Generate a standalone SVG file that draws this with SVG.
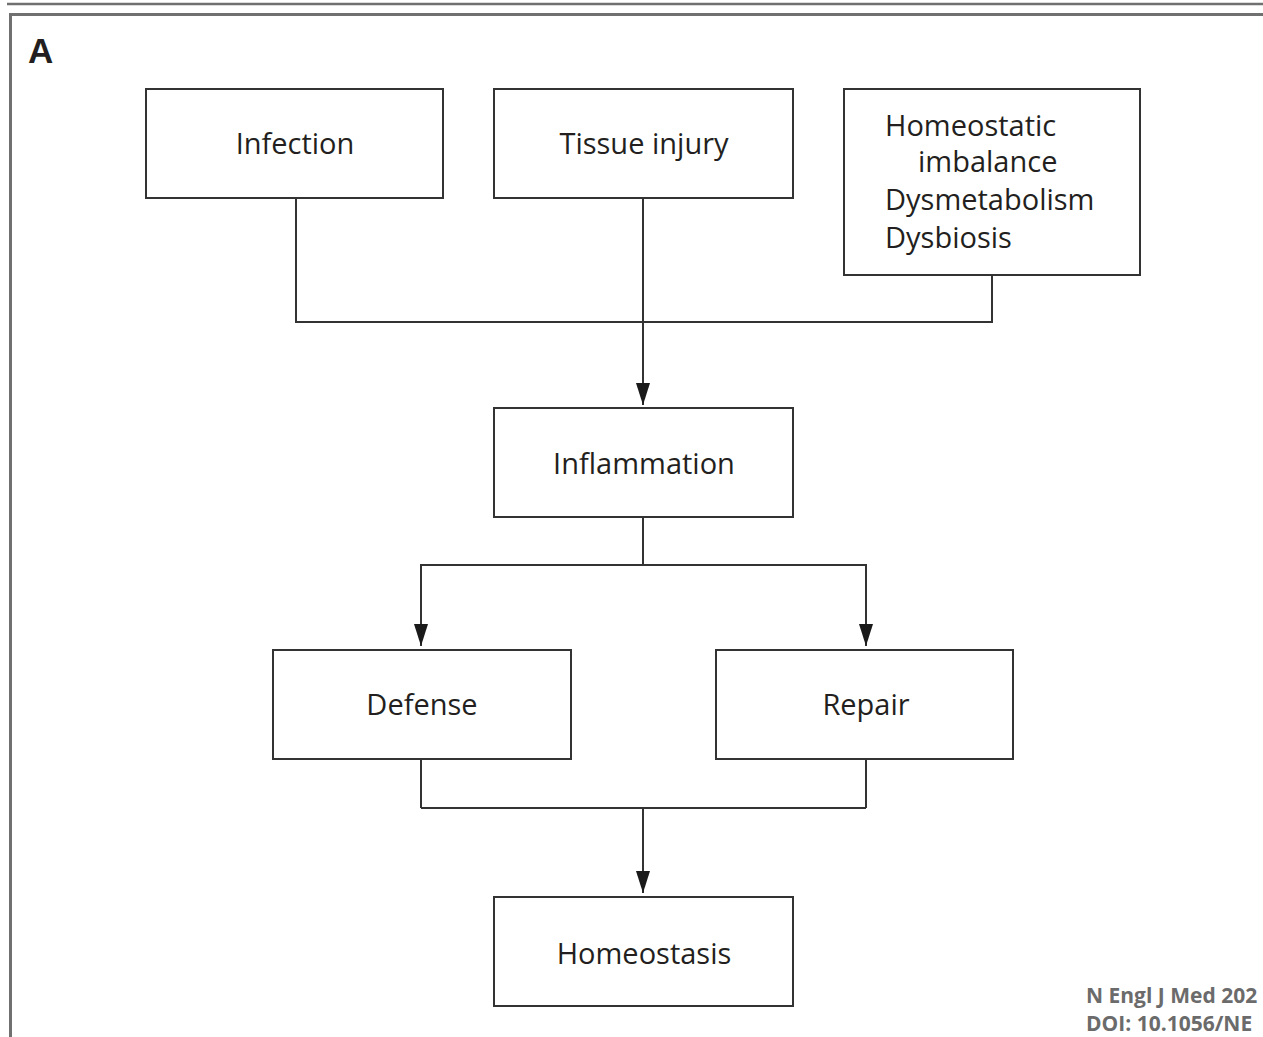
<svg xmlns="http://www.w3.org/2000/svg" width="1263" height="1037" viewBox="0 0 1263 1037">
  <style>
    .box { fill: #ffffff; stroke: #333333; stroke-width: 2; }
    .lbl { font-family: "Open Sans", "DejaVu Sans", sans-serif; font-size: 29px; fill: #231f20; }
    .mid { text-anchor: middle; }
    .wire { fill: none; stroke: #333333; stroke-width: 2; }
    .foot { font-family: "Open Sans", "Liberation Sans", sans-serif; font-size: 21px; font-weight: bold; fill: #6b6b6b; }
  </style>
  <defs>
    <marker id="arrow" viewBox="0 0 22 14" refX="22" refY="7" markerWidth="22" markerHeight="14" markerUnits="userSpaceOnUse" orient="auto">
      <path d="M0,0 L22,7 L0,14 Z" fill="#1a1a1a"/>
    </marker>
  </defs>

  <rect width="1263" height="1037" fill="#ffffff"/>

  <!-- panel frame -->
  <line x1="7" y1="4" x2="1263" y2="4" stroke="#707070" stroke-width="2.5"/>
  <path d="M10.5,1037 V14.5 H1263" fill="none" stroke="#707070" stroke-width="3"/>
  <text x="28" y="63" font-family="Liberation Sans, Arial, sans-serif" font-size="35" font-weight="bold" fill="#231f20">A</text>

  <!-- connectors -->
  <g id="connectors">
    <path class="wire" d="M296,198 V323 M643,198 V323 M992,275 V323 M296,322 H992"/>
    <path class="wire" d="M643,322 V405" marker-end="url(#arrow)"/>
    <path class="wire" d="M643,517 V565 M421,565 H866"/>
    <path class="wire" d="M421,564 V646" marker-end="url(#arrow)"/>
    <path class="wire" d="M866,564 V646" marker-end="url(#arrow)"/>
    <path class="wire" d="M421,759 V808 M866,759 V808 M421,808 H866"/>
    <path class="wire" d="M643,808 V893" marker-end="url(#arrow)"/>
  </g>

  <!-- nodes -->
  <g id="infection">
    <rect class="box" x="146" y="89" width="297" height="109"/>
    <text class="lbl mid" x="295" y="154">Infection</text>
  </g>
  <g id="tissue-injury">
    <rect class="box" x="494" y="89" width="299" height="109"/>
    <text class="lbl mid" x="644" y="154">Tissue injury</text>
  </g>
  <g id="homeostatic-imbalance">
    <rect class="box" x="844" y="89" width="296" height="186"/>
    <text class="lbl" x="885" y="136">Homeostatic</text>
    <text class="lbl" x="918" y="172">imbalance</text>
    <text class="lbl" x="885" y="210">Dysmetabolism</text>
    <text class="lbl" x="885" y="248">Dysbiosis</text>
  </g>
  <g id="inflammation">
    <rect class="box" x="494" y="408" width="299" height="109"/>
    <text class="lbl mid" x="644" y="474">Inflammation</text>
  </g>
  <g id="defense">
    <rect class="box" x="273" y="650" width="298" height="109"/>
    <text class="lbl mid" x="422" y="715">Defense</text>
  </g>
  <g id="repair">
    <rect class="box" x="716" y="650" width="297" height="109"/>
    <text class="lbl mid" x="866" y="715">Repair</text>
  </g>
  <g id="homeostasis">
    <rect class="box" x="494" y="897" width="299" height="109"/>
    <text class="lbl mid" x="644" y="964">Homeostasis</text>
  </g>

  <!-- citation -->
  <text class="foot" x="1086" y="1003">N Engl J Med 202</text>
  <text class="foot" x="1086" y="1031">DOI: 10.1056/NE</text>
</svg>
